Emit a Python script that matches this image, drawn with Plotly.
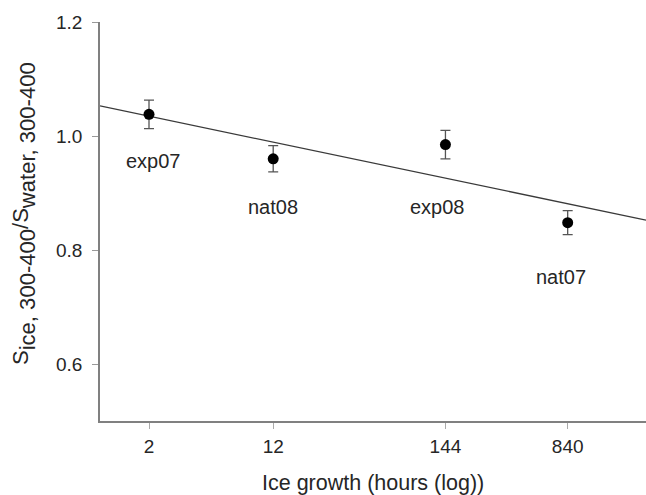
import numpy as np
import plotly.graph_objects as go

# ---- data ----
hours = [2, 12, 144, 840]
labels = ["exp07", "nat08", "exp08", "nat07"]
ratio = [1.038, 0.960, 0.985, 0.848]
err = [0.025, 0.023, 0.025, 0.021]
tick_vals = [2, 12, 144, 840]
tick_text = ["2", "12", "144", "840"]
y_ticks = [0.6, 0.8, 1.0, 1.2]
# label offsets in px relative to each point (style)
label_dx = [4, 0, -8, -7]
label_dy = [-47, -48, -62, -54]

FONT = "Liberation Sans, Arial, sans-serif"
TXT = "#262626"
AX = "#808080"

# regression on log10(hours)
lx = np.log10(hours)
slope, intercept = np.polyfit(lx, ratio, 1)
xr = [-0.006, 3.415]
line_x = np.array([10 ** xr[0], 10 ** xr[1]])
line_y = intercept + slope * np.log10(line_x)

fig = go.Figure()
fig.add_trace(go.Scatter(x=line_x, y=line_y, mode="lines",
                         line=dict(color="#3a3a3a", width=1.3),
                         hoverinfo="skip", showlegend=False))
fig.add_trace(go.Scatter(x=hours, y=ratio, mode="markers",
                         marker=dict(color="black", size=11),
                         error_y=dict(type="data", array=err, visible=True,
                                      color="#555555", thickness=1.3, width=5),
                         showlegend=False))

for h, r, t, dx, dy in zip(hours, ratio, labels, label_dx, label_dy):
    fig.add_annotation(x=np.log10(h), y=r, text=t, showarrow=False,
                       xshift=dx, yshift=dy,
                       font=dict(family=FONT, size=20, color=TXT))

ytitle = ("S<span style='font-size:31.5px'><sub>ice, 300-400</sub></span>"
          "/S<span style='font-size:31.5px'><sub>water, 300-400</sub></span>")
fig.add_annotation(xref="paper", yref="paper", x=(24 - 100) / 546, y=(421 - 214) / 399,
                   text=ytitle,
                   textangle=-90, showarrow=False, xanchor="center", yanchor="middle",
                   font=dict(family=FONT, size=22, color=TXT))
fig.add_annotation(xref="paper", yref="paper", x=0.5, y=-(483 - 421) / 399,
                   text="Ice growth (hours (log))", showarrow=False,
                   xanchor="center", yanchor="middle",
                   font=dict(family=FONT, size=21.5, color=TXT))

fig.update_xaxes(type="log", range=xr, tickvals=tick_vals, ticktext=tick_text,
                 showline=True, linecolor=AX, linewidth=1.5, showgrid=False,
                 zeroline=False, ticks="outside", ticklen=6, tickcolor="#aaaaaa",
                 tickwidth=1, ticklabelstandoff=1,
                 tickfont=dict(family=FONT, size=19, color=TXT))
fig.update_yaxes(range=[0.5, 1.2], tickvals=y_ticks, ticktext=["0.6", "0.8", "1.0", "1.2"],
                 showline=True, linecolor=AX, linewidth=1.5, showgrid=False,
                 zeroline=False, ticks="outside", ticklen=6, tickcolor="#999999",
                 tickwidth=1, ticklabelstandoff=6,
                 tickfont=dict(family=FONT, size=19, color=TXT))

fig.update_layout(width=646, height=495, margin=dict(l=100, r=0, t=22, b=74),
                  plot_bgcolor="white", paper_bgcolor="white")
fig.write_html("out.html")
